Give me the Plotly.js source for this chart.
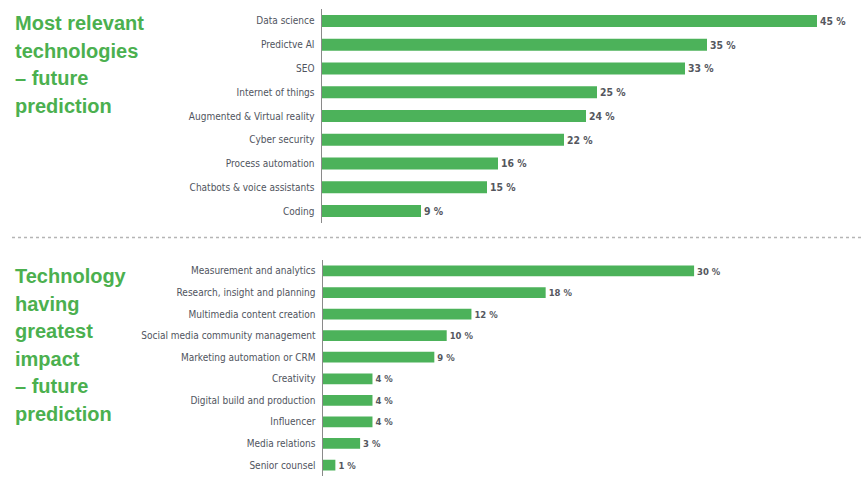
<!DOCTYPE html>
<html><head><meta charset="utf-8">
<script src="https://cdn.plot.ly/plotly-3.0.1.min.js"></script>
<style>html,body{margin:0;padding:0;background:#fff}#chart{width:864px;height:492px}</style>
</head><body><div id="chart"></div>
<script>
const topCategories = ["Data science","Predictve AI","SEO","Internet of things","Augmented & Virtual reality","Cyber security","Process automation","Chatbots & voice assistants","Coding"];
const topValues = [45,35,33,25,24,22,16,15,9];
const bottomCategories = ["Measurement and analytics","Research, insight and planning","Multimedia content creation","Social media community management","Marketing automation or CRM","Creativity","Digital build and production","Influencer","Media relations","Senior counsel"];
const bottomValues = [30,18,12,10,9,4,4,4,3,1];
const topTitleLines = ["Most relevant","technologies","\u2013 future","prediction"];
const bottomTitleLines = ["Technology","having","greatest","impact","\u2013 future","prediction"];

const W = 864, H = 492;
const GREEN = "#4cb25a";
const LABEL = "#50545e";
const narrow = "'Liberation Sans Narrow', 'DejaVu Sans Condensed', Arial, sans-serif";
const py = p => 1 - p / H;

const barTrace = (cats, vals, xa, ya) => ({
  type: "bar", orientation: "h", y: cats, x: vals, xaxis: xa, yaxis: ya,
  marker: {color: GREEN}, width: 0.5,
  text: vals.map(v => v + " %"), textposition: "outside", cliponaxis: false,
  textfont: {family: narrow, size: 10.5, color: "#55575e", weight: "bold"},
  hoverinfo: "skip"
});

const yStyle = (cats, domain) => ({
  domain: domain, type: "category", categoryorder: "array", categoryarray: cats,
  range: [cats.length - 0.5, -0.5], showline: true, linecolor: "#8a8a8a", linewidth: 1.5,
  ticks: "", showgrid: false, zeroline: false, ticklabelstandoff: 4,
  tickfont: {family: narrow, size: 10, color: LABEL}, fixedrange: true
});

const annotations = [];
const topBase = [31, 59, 86, 114];
const botBase = [284, 311.6, 339.2, 366.8, 394.4, 422];
const addTitle = (lines, bases) => lines.forEach((t, i) => annotations.push({
  text: t, xref: "paper", yref: "paper", x: 13 / W, y: py(bases[i] + 5), xanchor: "left", yanchor: "bottom",
  showarrow: false, font: {family: "'Liberation Sans', Arial, sans-serif", size: 20, color: "#4bb04f", weight: "bold"}
}));
addTitle(topTitleLines, topBase);
addTitle(bottomTitleLines, botBase);

const layout = {
  width: W, height: H, margin: {l: 0, r: 0, t: 0, b: 0},
  paper_bgcolor: "#fff", plot_bgcolor: "#fff", showlegend: false, bargap: 0.5,
  xaxis: {domain: [322 / W, 1], range: [0, 542 / 11], visible: false, fixedrange: true},
  yaxis: yStyle(topCategories, [py(222.9), py(9.1)]),
  xaxis2: {domain: [323 / W, 1], range: [0, 541 / 12.37], visible: false, anchor: "y2", fixedrange: true},
  yaxis2: Object.assign(yStyle(bottomCategories, [py(475.8), py(260.2)]), {anchor: "x2"}),
  annotations: annotations,
  shapes: [{type: "line", xref: "paper", yref: "paper", x0: 12 / W, x1: 862 / W, y0: py(237.5), y1: py(237.5),
    line: {color: "#b5b5b5", width: 1.5, dash: "dot"}}]
};
layout.yaxis.anchor = "x";

Plotly.newPlot("chart", [barTrace(topCategories, topValues, "x", "y"), barTrace(bottomCategories, bottomValues, "x2", "y2")], layout, {displayModeBar: false, staticPlot: true});
</script></body></html>
